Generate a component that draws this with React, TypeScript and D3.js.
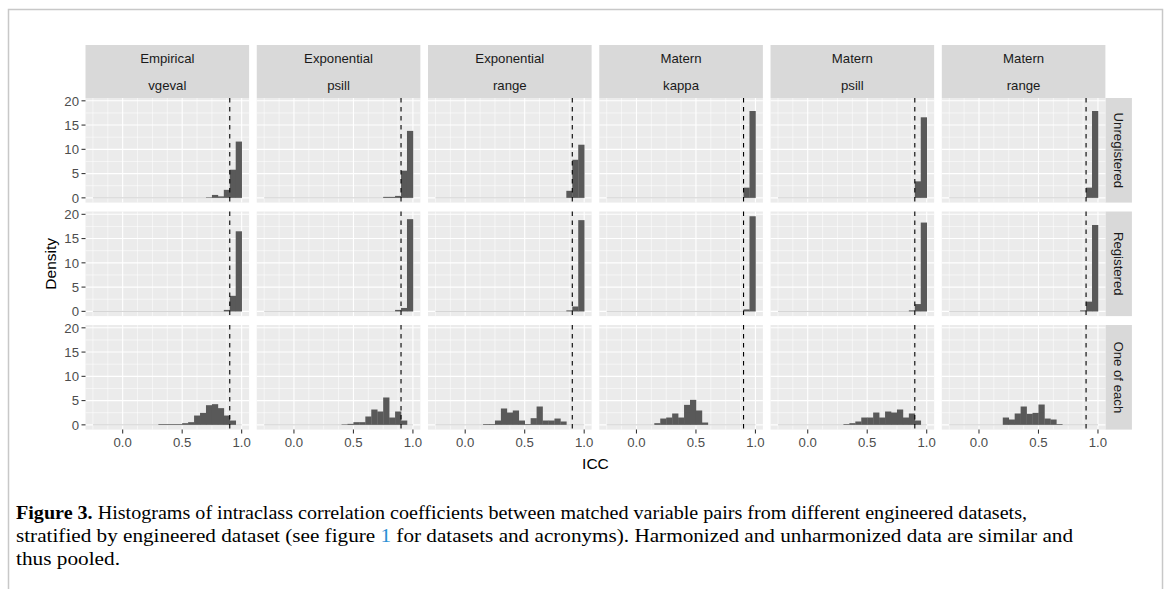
import React from "react";
import * as d3 from "d3";

// ---------- data ----------
const METHODS = ["Empirical", "Exponential", "Exponential", "Matern", "Matern", "Matern"];
const PARAMS = ["vgeval", "psill", "range", "kappa", "psill", "range"];
const ROWS = ["Unregistered", "Registered", "One of each"];
const BIN_START = -0.25;
const BIN_END = 1.0;
const BIN_WIDTH = 0.05;
const THRESHOLD = 0.9;
const X_TICKS = [0, 0.5, 1.0];
const X_TICK_LABELS = ["0.0", "0.5", "1.0"];
const Y_TICKS = [0, 5, 10, 15, 20];

// densities, each list starts at the bin whose left edge is `from`
const unregistered = [
  { from: 0.70, d: [0.1, 0.6, 0.3, 1.65, 5.8, 11.6] },
  { from: 0.75, d: [0.2, 0.2, 0.4, 5.6, 13.8] },
  { from: 0.85, d: [1.45, 7.85, 10.95] },
  { from: 0.90, d: [2.1, 17.9] },
  { from: 0.90, d: [3.4, 16.6] },
  { from: 0.90, d: [2.1, 17.9] },
];
const registered = [
  { from: 0.85, d: [0.3, 3.2, 16.5] },
  { from: 0.85, d: [0.3, 0.7, 19.0] },
  { from: 0.85, d: [0.2, 1.0, 18.8] },
  { from: 0.90, d: [0.4, 19.6] },
  { from: 0.85, d: [0.2, 1.5, 18.3] },
  { from: 0.85, d: [0.2, 2.0, 17.8] },
];
const oneOfEach = [
  { from: 0.30, d: [0.15, 0.15, 0.15, 0.15, 0.34, 0.55, 1.92, 2.47, 4.05, 4.26, 3.44, 1.92, 0.89] },
  { from: 0.40, d: [0.1, 0.2, 0.55, 0.55, 1.72, 3.16, 2.75, 5.64, 1.51, 2.75, 0.89] },
  { from: 0.15, d: [0.15, 0.15, 0.89, 3.37, 2.54, 2.96, 0.89, 0.15, 1.37, 3.78, 0.89, 0.89, 1.3, 0.69] },
  { from: 0.15, d: [0.34, 1.3, 1.51, 2.34, 1.51, 4.12, 5.15, 2.96, 0.48] },
  { from: 0.30, d: [0.15, 0.34, 0.69, 1.51, 1.51, 2.54, 1.51, 2.75, 2.54, 3.16, 1.51, 2.34, 0.89] },
  { from: 0.20, d: [1.51, 1.1, 2.34, 3.78, 2.27, 2.47, 4.19, 1.3, 1.1, 0.15] },
];
const PANEL_DATA = [unregistered, registered, oneOfEach];

const CAPTION_LINE1 =
  " Histograms of intraclass correlation coefficients between matched variable pairs from different engineered datasets,";
const CAPTION_LINE2A = "stratified by engineered dataset (see figure ";
const CAPTION_LINE2B = " for datasets and acronyms). Harmonized and unharmonized data are similar and";
const CAPTION_LINE3 = "thus pooled.";

type Bin = { x0: number; x1: number; v: number };

function toBins(p: { from: number; d: number[] }): Bin[] {
  const n = Math.round((BIN_END - BIN_START) / BIN_WIDTH);
  const first = Math.round((p.from - BIN_START) / BIN_WIDTH);
  return d3.range(n).map((k) => ({
    x0: BIN_START + k * BIN_WIDTH,
    x1: BIN_START + (k + 1) * BIN_WIDTH,
    v: k >= first && k - first < p.d.length ? p.d[k - first] : 0,
  }));
}

export default function App() {
  const W = 1167;
  const H = 589;
  const panelLeft0 = 85.5;
  const colPitch = 171.26;
  const panelW = 163.6;
  const panelTop0 = 98;
  const rowPitch = 113.5;
  const panelH = 104.6;
  const stripTop = 45;
  const stripH = 26.5;
  const rStripW = 26.5;
  const font = "'Liberation Sans', Arial, sans-serif";
  const fs = 13.2;
  const tfs = 15.5;

  const span = BIN_END - BIN_START;
  const x = d3
    .scaleLinear()
    .domain([BIN_START - 0.05 * span, BIN_END + 0.05 * span])
    .range([0, panelW]);
  const ymax = d3.max(PANEL_DATA.flat(), (p) => d3.max(p.d)) as number;
  const y = d3
    .scaleLinear()
    .domain([-0.05 * ymax, ymax * 1.05])
    .range([panelH, 0]);

  const xMinor = d3.range(-0.25, 1.0001, 0.125).filter((v) => !X_TICKS.some((t) => Math.abs(t - v) < 1e-6));
  const yMinor = [2.5, 7.5, 12.5, 17.5];

  const lastRight = panelLeft0 + 5 * colPitch + panelW;
  const bottom = panelTop0 + 2 * rowPitch + panelH;

  return (
    <svg
      width={W}
      height={H}
      style={{ position: "absolute", left: 0, top: 0, background: "#fff" }}
      fontFamily={font}
    >
      <rect x={8.5} y={9.5} width={1154} height={600} fill="none" stroke="#c8c8c8" strokeWidth={1.5} />

      {/* top strips */}
      {METHODS.map((m, c) => {
        const px = panelLeft0 + c * colPitch;
        return (
          <g key={"s" + c}>
            <rect x={px} y={stripTop} width={panelW} height={stripH * 2} fill="#D9D9D9" />
            <text x={px + panelW / 2} y={stripTop + stripH / 2} dy="0.36em" textAnchor="middle" fontSize={fs} fill="#1A1A1A">
              {m}
            </text>
            <text x={px + panelW / 2} y={stripTop + stripH * 1.5} dy="0.36em" textAnchor="middle" fontSize={fs} fill="#1A1A1A">
              {PARAMS[c]}
            </text>
          </g>
        );
      })}

      {/* right strips */}
      {ROWS.map((r, ri) => {
        const py = panelTop0 + ri * rowPitch;
        return (
          <g key={"r" + ri}>
            <rect x={lastRight} y={py} width={rStripW} height={panelH} fill="#D9D9D9" />
            <text
              transform={`translate(${lastRight + rStripW / 2},${py + panelH / 2}) rotate(90)`}
              dy="0.36em"
              textAnchor="middle"
              fontSize={fs}
              fill="#1A1A1A"
            >
              {r}
            </text>
          </g>
        );
      })}

      {/* panels */}
      {PANEL_DATA.map((row, ri) =>
        row.map((p, c) => {
          const px = panelLeft0 + c * colPitch;
          const py = panelTop0 + ri * rowPitch;
          const bins = toBins(p);
          return (
            <g key={`p${ri}-${c}`} transform={`translate(${px},${py})`}>
              <rect width={panelW} height={panelH} fill="#EBEBEB" />
              {yMinor.map((v) => (
                <line key={"ym" + v} x1={0} x2={panelW} y1={y(v)} y2={y(v)} stroke="#fff" strokeWidth={0.55} />
              ))}
              {xMinor.map((v) => (
                <line key={"xm" + v} y1={0} y2={panelH} x1={x(v)} x2={x(v)} stroke="#fff" strokeWidth={0.55} />
              ))}
              {Y_TICKS.map((v) => (
                <line key={"yM" + v} x1={0} x2={panelW} y1={y(v)} y2={y(v)} stroke="#fff" strokeWidth={1.1} />
              ))}
              {X_TICKS.map((v) => (
                <line key={"xM" + v} y1={0} y2={panelH} x1={x(v)} x2={x(v)} stroke="#fff" strokeWidth={1.1} />
              ))}
              <line x1={x(BIN_START)} x2={x(BIN_END)} y1={y(0)} y2={y(0)} stroke="#cfcfcf" strokeWidth={1} />
              {bins
                .filter((b) => b.v > 0)
                .map((b, i) => (
                  <rect
                    key={i}
                    x={x(b.x0)}
                    width={x(b.x1) - x(b.x0) + 0.3}
                    y={y(b.v)}
                    height={y(0) - y(b.v)}
                    fill="#595959"
                  />
                ))}
              <line
                x1={x(THRESHOLD)}
                x2={x(THRESHOLD)}
                y1={0}
                y2={panelH}
                stroke="#000"
                strokeWidth={1.1}
                strokeDasharray="4.5,4.5"
              />
            </g>
          );
        })
      )}

      {/* y axes */}
      {ROWS.map((_, ri) => {
        const py = panelTop0 + ri * rowPitch;
        return (
          <g key={"ya" + ri}>
            {Y_TICKS.map((v) => (
              <g key={v}>
                <line x1={panelLeft0 - 4} x2={panelLeft0} y1={py + y(v)} y2={py + y(v)} stroke="#333" strokeWidth={1.07} />
                <text x={panelLeft0 - 6.5} y={py + y(v)} dy="0.36em" textAnchor="end" fontSize={fs} fill="#4D4D4D">
                  {v}
                </text>
              </g>
            ))}
          </g>
        );
      })}

      {/* x axes */}
      {METHODS.map((_, c) => {
        const px = panelLeft0 + c * colPitch;
        return (
          <g key={"xa" + c}>
            {X_TICKS.map((v, i) => (
              <g key={v}>
                <line x1={px + x(v)} x2={px + x(v)} y1={bottom} y2={bottom + 4} stroke="#333" strokeWidth={1.07} />
                <text x={px + x(v)} y={bottom + 12.5} dy="0.36em" textAnchor="middle" fontSize={fs} fill="#4D4D4D">
                  {X_TICK_LABELS[i]}
                </text>
              </g>
            ))}
          </g>
        );
      })}

      <text
        transform={`translate(50,${(panelTop0 + bottom) / 2}) rotate(-90)`}
        dy="0.36em"
        textAnchor="middle"
        fontSize={tfs}
        fill="#000"
      >
        Density
      </text>
      <text x={(panelLeft0 + lastRight) / 2} y={463} dy="0.36em" textAnchor="middle" fontSize={tfs} fill="#000">
        ICC
      </text>

      {/* caption */}
      <g fontFamily="'Liberation Serif', 'Times New Roman', serif" fontSize={19.5} fill="#000">
        <text x={16} y={519} textLength={1011} lengthAdjust="spacingAndGlyphs">
          <tspan fontWeight="bold">Figure 3.</tspan>
          <tspan>{CAPTION_LINE1}</tspan>
        </text>
        <text x={16} y={542} textLength={1057} lengthAdjust="spacingAndGlyphs">
          <tspan>{CAPTION_LINE2A}</tspan>
          <tspan fill="#2a8fd4">1</tspan>
          <tspan>{CAPTION_LINE2B}</tspan>
        </text>
        <text x={16} y={565} textLength={104} lengthAdjust="spacingAndGlyphs">
          {CAPTION_LINE3}
        </text>
      </g>
    </svg>
  );
}
